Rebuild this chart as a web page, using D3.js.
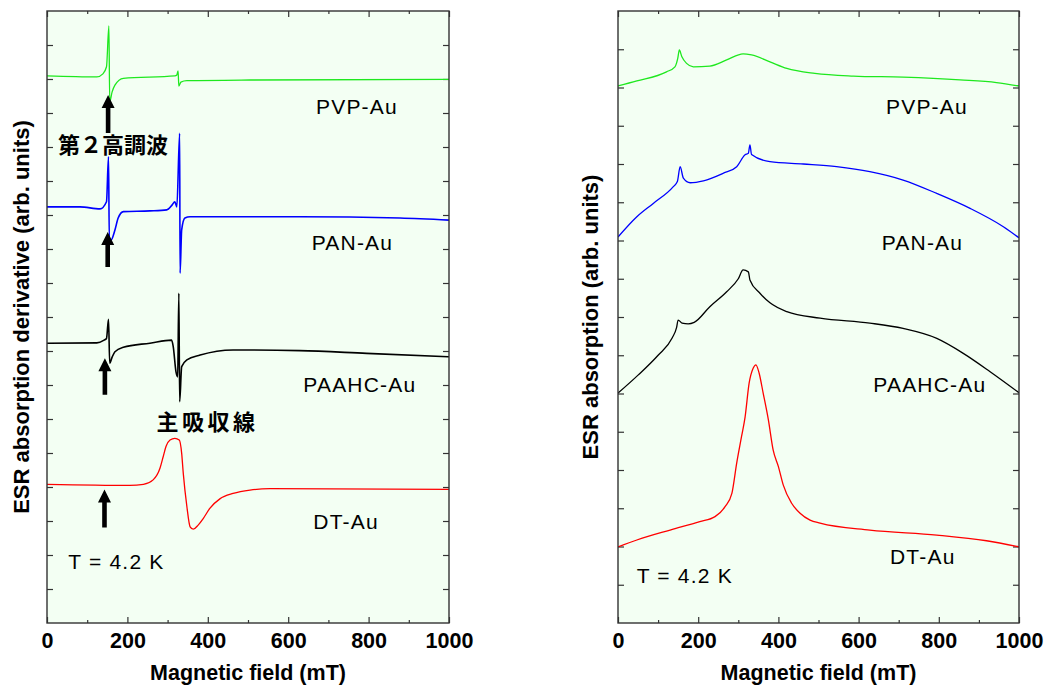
<!DOCTYPE html>
<html>
<head>
<meta charset="utf-8">
<script src="https://cdn.jsdelivr.net/npm/d3@7"></script>
<style>
  html, body { margin: 0; padding: 0; background: #ffffff; }
  svg { display: block; }
</style>
</head>
<body>
<svg id="chart" width="1047" height="687"></svg>
<script>
// ---------------- DATA ----------------
const seriesNames = ["PVP-Au", "PAN-Au", "PAAHC-Au", "DT-Au"];
const seriesColors = ["#1ee81e", "#0000ff", "#000000", "#ff0000"];

const xTickValues = [0, 200, 400, 600, 800, 1000];
const xTickLabels = ["0", "200", "400", "600", "800", "1000"];
const xMinorTicks = [100, 300, 500, 700, 900];

// Left panel: ESR absorption derivative (offset traces)
const derivPVP_field = [0, 124, 139, 148, 154, 156, 162, 169, 190, 318, 323, 326, 328, 333, 348, 505, 1000];
const derivPVP_value = [16.09, 16.06, 16.15, 16.36, 17.56, 15.33, 15.62, 15.82, 16.02, 16.09, 16.12, 16.24, 15.79, 15.91, 15.95, 15.97, 15.99];

const derivPAN_field = [0, 82, 132, 148, 153, 155, 159, 169, 177, 190, 256, 298, 311, 318, 323, 330, 331, 335, 343, 356, 629, 878, 1000];
const derivPAN_value = [12.24, 12.24, 12.18, 12.39, 13.71, 11.26, 11.26, 11.56, 11.91, 12.10, 12.12, 12.15, 12.29, 12.39, 12.24, 14.40, 10.29, 11.56, 11.91, 11.95, 11.95, 11.91, 11.85];

const derivPAAHC_field = [0, 124, 142, 148, 153, 156, 162, 169, 190, 256, 310, 314, 321, 325, 328, 330, 335, 348, 381, 463, 629, 795, 1000];
const derivPAAHC_value = [8.23, 8.24, 8.32, 8.37, 8.93, 7.64, 7.82, 7.98, 8.11, 8.23, 8.32, 8.13, 7.38, 7.24, 9.70, 6.51, 7.54, 7.74, 7.88, 8.03, 8.01, 7.93, 7.83];

const derivDT_field = [0, 206, 240, 264, 281, 289, 296, 306, 318, 329, 335, 339, 348, 356, 364, 376, 389, 405, 430, 463, 505, 555, 1000];
const derivDT_value = [4.08, 4.05, 4.08, 4.21, 4.55, 4.89, 5.19, 5.38, 5.43, 5.38, 4.99, 4.40, 3.42, 2.83, 2.76, 2.88, 3.08, 3.37, 3.65, 3.81, 3.91, 3.95, 3.93];

// Right panel: ESR absorption (offset traces)
const absPVP_field = [0, 47, 121, 142, 149, 153, 159, 171, 188, 229, 271, 312, 333, 379, 421, 491, 587, 711, 853, 944, 1000];
const absPVP_value = [14.04, 14.17, 14.41, 14.54, 14.76, 14.98, 14.81, 14.63, 14.54, 14.56, 14.72, 14.88, 14.85, 14.67, 14.50, 14.37, 14.30, 14.27, 14.20, 14.13, 14.04];

const absPAN_field = [0, 47, 88, 138, 148, 155, 163, 180, 213, 263, 296, 317, 325, 329, 333, 379, 462, 545, 628, 711, 795, 878, 961, 1000];
const absPAN_value = [10.09, 10.62, 10.97, 11.41, 11.54, 11.93, 11.63, 11.51, 11.56, 11.76, 11.93, 12.24, 12.28, 12.50, 12.25, 12.06, 12.00, 11.93, 11.80, 11.58, 11.23, 10.84, 10.36, 10.07];

const absPAAHC_field = [0, 50, 100, 135, 146, 150, 160, 175, 190, 229, 271, 300, 312, 325, 329, 354, 379, 421, 504, 628, 711, 795, 861, 928, 1000];
const absPAAHC_value = [6.01, 6.48, 7.00, 7.45, 7.72, 7.92, 7.84, 7.82, 7.86, 8.27, 8.66, 9.00, 9.23, 9.18, 8.97, 8.62, 8.37, 8.14, 7.97, 7.84, 7.70, 7.44, 7.05, 6.57, 6.02];

const absDT_field = [0, 47, 130, 204, 242, 267, 284, 296, 308, 317, 327, 337, 344, 352, 362, 375, 387, 400, 412, 433, 454, 479, 504, 628, 795, 919, 1000];
const absDT_value = [1.99, 2.17, 2.43, 2.65, 2.78, 3.04, 3.39, 4.18, 4.87, 5.39, 6.27, 6.66, 6.75, 6.53, 6.01, 5.31, 4.52, 4.09, 3.61, 3.13, 2.87, 2.69, 2.61, 2.43, 2.30, 2.15, 1.99];

// Arrows marking the second harmonic (left panel)
const arrowField = [152, 151, 144, 143];
const arrowTip = [15.53, 11.50, 7.79, 3.93];
const arrowTail = [14.41, 10.47, 6.71, 2.81];

// Texts
const leftYTitle = "ESR absorption derivative (arb. units)";
const rightYTitle = "ESR absorption (arb. units)";
const xTitle = "Magnetic field (mT)";
const tempLabel = "T = 4.2 K";
const harmonicLabel = "第２高調波";
const mainLineLabel = "主吸収線";

// ---------------- LAYOUT ----------------
const svg = d3.select("#chart");
const FONT = "'Liberation Sans', Arial, sans-serif";
const CJK = "'Noto Sans CJK JP', 'Noto Sans CJK SC', sans-serif";

const panels = [
  {
    id: "L", x0: 47, x1: 449, y0: 11, y1: 623, yMax: 18,
    series: [
      [derivPVP_field, derivPVP_value], [derivPAN_field, derivPAN_value],
      [derivPAAHC_field, derivPAAHC_value], [derivDT_field, derivDT_value]
    ],
    widths: [1.3, 1.6, 1.6, 1.3],
    labelPos: [[316, 114.3], [311.7, 250], [303.3, 392.3], [313.3, 529]],
    tempPos: [68.3, 569.3],
    yTitle: leftYTitle, yTitleX: 29
  },
  {
    id: "R", x0: 618, x1: 1019, y0: 11, y1: 623, yMax: 16,
    series: [
      [absPVP_field, absPVP_value], [absPAN_field, absPAN_value],
      [absPAAHC_field, absPAAHC_value], [absDT_field, absDT_value]
    ],
    widths: [1.3, 1.3, 1.3, 1.3],
    labelPos: [[886, 114.3], [881.7, 250], [873.3, 392.3], [890, 564.3]],
    tempPos: [636.7, 583.3],
    yTitle: rightYTitle, yTitleX: 598
  }
];

panels.forEach(p => {
  const x = d3.scaleLinear().domain([0, 1000]).range([p.x0, p.x1]);
  const y = d3.scaleLinear().domain([0, p.yMax]).range([p.y1, p.y0]);
  p.x = x; p.y = y;
  const g = svg.append("g");

  g.append("rect")
    .attr("x", p.x0).attr("y", p.y0)
    .attr("width", p.x1 - p.x0).attr("height", p.y1 - p.y0)
    .attr("fill", "#f3fff3");

  svg.append("clipPath").attr("id", "clip" + p.id)
    .append("rect")
    .attr("x", p.x0).attr("y", p.y0)
    .attr("width", p.x1 - p.x0).attr("height", p.y1 - p.y0);

  const axisBottom = d3.axisBottom(x).tickValues(xTickValues)
    .tickFormat((d, i) => xTickLabels[i]).tickSizeInner(-6).tickSizeOuter(0).tickPadding(10);
  const axisTop = d3.axisTop(x).tickValues(xTickValues).tickFormat("").tickSizeInner(-6).tickSizeOuter(0);
  const minorBottom = d3.axisBottom(x).tickValues(xMinorTicks).tickFormat("").tickSizeInner(-3).tickSizeOuter(0);
  const minorTop = d3.axisTop(x).tickValues(xMinorTicks).tickFormat("").tickSizeInner(-3).tickSizeOuter(0);
  const yTicks = d3.range(1, p.yMax);
  const axisLeft = d3.axisLeft(y).tickValues(yTicks).tickFormat("").tickSizeInner(-6).tickSizeOuter(0);
  const axisRight = d3.axisRight(y).tickValues(yTicks).tickFormat("").tickSizeInner(-6).tickSizeOuter(0);

  const axes = [
    [axisBottom, `translate(0,${p.y1})`], [minorBottom, `translate(0,${p.y1})`],
    [axisTop, `translate(0,${p.y0})`], [minorTop, `translate(0,${p.y0})`],
    [axisLeft, `translate(${p.x0},0)`], [axisRight, `translate(${p.x1},0)`]
  ];
  axes.forEach(([ax, tr]) => {
    const a = g.append("g").attr("transform", tr).call(ax);
    a.select(".domain").remove();
    a.selectAll("line").attr("stroke", "#333").attr("stroke-width", 1.2);
    a.selectAll("text")
      .attr("font-family", FONT).attr("font-size", 21.5).attr("font-weight", "bold")
      .attr("fill", "#000");
  });

  const line = d3.line().x(d => x(d[0])).y(d => y(d[1])).curve(d3.curveMonotoneX);
  const lines = g.append("g").attr("clip-path", `url(#clip${p.id})`);
  p.series.forEach((s, i) => {
    const pts = s[0].map((f, k) => [f, s[1][k]]);
    lines.append("path")
      .datum(pts)
      .attr("d", line)
      .attr("fill", "none")
      .attr("stroke", seriesColors[i])
      .attr("stroke-width", p.widths[i])
      .attr("stroke-linejoin", "round");
  });

  g.append("rect")
    .attr("x", p.x0).attr("y", p.y0)
    .attr("width", p.x1 - p.x0).attr("height", p.y1 - p.y0)
    .attr("fill", "none").attr("stroke", "#333").attr("stroke-width", 1.4);

  seriesNames.forEach((name, i) => {
    g.append("text")
      .attr("x", p.labelPos[i][0]).attr("y", p.labelPos[i][1])
      .attr("font-family", FONT).attr("font-size", 21).attr("letter-spacing", 1.2)
      .attr("fill", "#000").text(name);
  });

  g.append("text")
    .attr("x", p.tempPos[0]).attr("y", p.tempPos[1])
    .attr("font-family", FONT).attr("font-size", 21).attr("letter-spacing", 1.2)
    .attr("fill", "#000").text(tempLabel);

  g.append("text")
    .attr("x", (p.x0 + p.x1) / 2).attr("y", 680)
    .attr("text-anchor", "middle")
    .attr("font-family", FONT).attr("font-size", 21.5).attr("font-weight", "bold")
    .attr("fill", "#000").text(xTitle);

  g.append("text")
    .attr("transform", `translate(${p.yTitleX},${(p.y0 + p.y1) / 2}) rotate(-90)`)
    .attr("text-anchor", "middle")
    .attr("font-family", FONT).attr("font-size", 22).attr("font-weight", "bold")
    .attr("fill", "#000").text(p.yTitle);
});

// ---------------- ANNOTATIONS (left panel) ----------------
const L = panels[0];
const ag = svg.append("g");
arrowField.forEach((f, i) => {
  const cx = L.x(f);
  const yt = L.y(arrowTip[i]);
  const yb = L.y(arrowTail[i]);
  const hw = 6.5, hh = 13, sw = 2.3;
  const path = `M${cx},${yt} L${cx + hw},${yt + hh} L${cx + sw},${yt + hh} L${cx + sw},${yb} L${cx - sw},${yb} L${cx - sw},${yt + hh} L${cx - hw},${yt + hh} Z`;
  ag.append("path").attr("d", path).attr("fill", "#000");
});

ag.append("text")
  .attr("x", 58).attr("y", 153)
  .attr("font-family", CJK).attr("font-size", 22).attr("font-weight", "bold")
  .attr("fill", "#000").text(harmonicLabel);

ag.append("text")
  .attr("x", 156.5).attr("y", 430)
  .attr("font-family", CJK).attr("font-size", 22).attr("font-weight", "bold")
  .attr("letter-spacing", 3.5)
  .attr("fill", "#000").text(mainLineLabel);
</script>
</body>
</html>
